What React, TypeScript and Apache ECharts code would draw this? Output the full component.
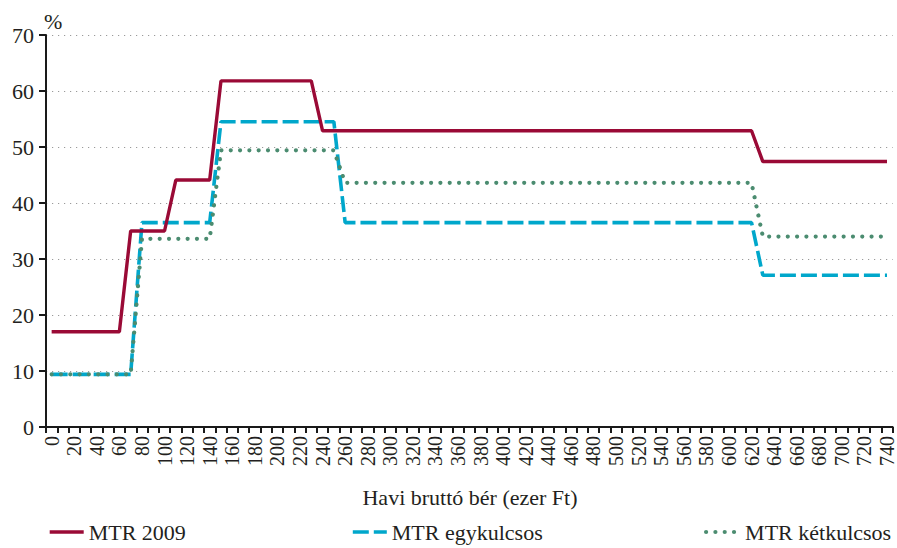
import React, { useEffect, useRef } from "react";
import * as echarts from "echarts";

const categories = [
  "0", "10", "20", "30", "40", "50", "60", "70", "80", "90",
  "100", "110", "120", "130", "140", "150", "160", "170", "180", "190",
  "200", "210", "220", "230", "240", "250", "260", "270", "280", "290",
  "300", "310", "320", "330", "340", "350", "360", "370", "380", "390",
  "400", "410", "420", "430", "440", "450", "460", "470", "480", "490",
  "500", "510", "520", "530", "540", "550", "560", "570", "580", "590",
  "600", "610", "620", "630", "640", "650", "660", "670", "680", "690",
  "700", "710", "720", "730", "740",
];

// MTR 2009
const mtr2009 = [
  17, 17, 17, 17, 17, 17, 17,
  35, 35, 35, 35,
  44.1, 44.1, 44.1, 44.1,
  61.8, 61.8, 61.8, 61.8, 61.8, 61.8, 61.8, 61.8, 61.8,
  52.9, 52.9, 52.9, 52.9, 52.9, 52.9, 52.9, 52.9, 52.9, 52.9,
  52.9, 52.9, 52.9, 52.9, 52.9, 52.9, 52.9, 52.9, 52.9, 52.9,
  52.9, 52.9, 52.9, 52.9, 52.9, 52.9, 52.9, 52.9, 52.9, 52.9,
  52.9, 52.9, 52.9, 52.9, 52.9, 52.9, 52.9, 52.9, 52.9,
  47.4, 47.4, 47.4, 47.4, 47.4, 47.4, 47.4, 47.4, 47.4, 47.4, 47.4, 47.4,
];

// MTR egykulcsos
const mtrEgy = [
  9.4, 9.4, 9.4, 9.4, 9.4, 9.4, 9.4, 9.4,
  36.5, 36.5, 36.5, 36.5, 36.5, 36.5, 36.5,
  54.5, 54.5, 54.5, 54.5, 54.5, 54.5, 54.5, 54.5, 54.5, 54.5, 54.5,
  36.5, 36.5, 36.5, 36.5, 36.5, 36.5, 36.5, 36.5, 36.5, 36.5,
  36.5, 36.5, 36.5, 36.5, 36.5, 36.5, 36.5, 36.5, 36.5, 36.5,
  36.5, 36.5, 36.5, 36.5, 36.5, 36.5, 36.5, 36.5, 36.5, 36.5,
  36.5, 36.5, 36.5, 36.5, 36.5, 36.5, 36.5,
  27.1, 27.1, 27.1, 27.1, 27.1, 27.1, 27.1, 27.1, 27.1, 27.1, 27.1, 27.1,
];

// MTR kétkulcsos
const mtrKet = [
  9.4, 9.4, 9.4, 9.4, 9.4, 9.4, 9.4, 9.4,
  33.6, 33.6, 33.6, 33.6, 33.6, 33.6, 33.6,
  49.4, 49.4, 49.4, 49.4, 49.4, 49.4, 49.4, 49.4, 49.4, 49.4, 49.4,
  43.6, 43.6, 43.6, 43.6, 43.6, 43.6, 43.6, 43.6, 43.6, 43.6,
  43.6, 43.6, 43.6, 43.6, 43.6, 43.6, 43.6, 43.6, 43.6, 43.6,
  43.6, 43.6, 43.6, 43.6, 43.6, 43.6, 43.6, 43.6, 43.6, 43.6,
  43.6, 43.6, 43.6, 43.6, 43.6, 43.6, 43.6,
  34.0, 34.0, 34.0, 34.0, 34.0, 34.0, 34.0, 34.0, 34.0, 34.0, 34.0, 34.0,
];

const seriesNames = ["MTR 2009", "MTR egykulcsos", "MTR kétkulcsos"];
const xTitle = "Havi bruttó bér (ezer Ft)";
const yUnit = "%";

const FONT = "'Liberation Serif', 'DejaVu Serif', serif";
const TXT = "#231f20";
const RED = "#9a0a36";
const BLUE = "#00a7cb";
const GREEN = "#4b8c70";

export default function App() {
  const ref = useRef<HTMLDivElement>(null);
  useEffect(() => {
    if (!ref.current) return;
    const chart = echarts.init(ref.current, null, { renderer: "svg" });
    const legendBase = {
      top: 521,
      padding: 0,
      itemWidth: 34,
      itemHeight: 14,
      itemGap: 6,
      itemStyle: { opacity: 0 },
      lineStyle: { width: "inherit" },
      textStyle: { fontFamily: FONT, fontSize: 22, color: TXT },
    };
    chart.setOption({
      animation: false,
      backgroundColor: "#ffffff",
      grid: { left: 46, right: 4, top: 35, bottom: 121 },
      legend: [
        { ...legendBase, left: 48, data: [seriesNames[0]] },
        { ...legendBase, left: 351, data: [seriesNames[1]] },
        { ...legendBase, left: 704, data: [seriesNames[2]] },
      ],
      graphic: [
        {
          type: "text",
          left: 44,
          top: 10,
          style: { text: yUnit, font: `22px ${FONT}`, fill: TXT },
        },
        {
          type: "text",
          x: 470,
          y: 497,
          style: {
            text: xTitle,
            font: `22px ${FONT}`,
            fill: TXT,
            align: "center",
            verticalAlign: "middle",
          },
        },
      ],
      xAxis: {
        type: "category",
        data: categories,
        boundaryGap: true,
        axisLine: { show: true, lineStyle: { color: "#1a1a1a", width: 2 } },
        axisTick: {
          show: true,
          interval: 0,
          alignWithLabel: false,
          length: 6,
          lineStyle: { color: "#1a1a1a", width: 2 },
        },
        axisLabel: {
          interval: 1,
          rotate: 90,
          margin: 9,
          fontFamily: FONT,
          fontSize: 20,
          color: TXT,
        },
        splitLine: { show: false },
      },
      yAxis: {
        type: "value",
        min: 0,
        max: 70,
        interval: 10,
        axisLine: { show: true, lineStyle: { color: "#1a1a1a", width: 2 } },
        axisTick: {
          show: true,
          length: 7,
          lineStyle: { color: "#1a1a1a", width: 2 },
        },
        axisLabel: {
          margin: 12,
          fontFamily: FONT,
          fontSize: 22,
          color: TXT,
        },
        splitLine: {
          show: true,
          lineStyle: { color: "#9a9a9a", width: 1.2, type: [1.2, 4.8] },
        },
      },
      series: [
        {
          name: seriesNames[1],
          type: "line",
          data: mtrEgy,
          symbol: "none",
          lineStyle: { color: BLUE, width: 3.6, type: [16, 5] },
          itemStyle: { color: BLUE },
          z: 2,
        },
        {
          name: seriesNames[2],
          type: "line",
          data: mtrKet,
          symbol: "none",
          lineStyle: { color: GREEN, width: 4.2, type: [0.01, 9.3], cap: "round" },
          itemStyle: { color: GREEN },
          z: 3,
        },
        {
          name: seriesNames[0],
          type: "line",
          data: mtr2009,
          symbol: "none",
          lineStyle: { color: RED, width: 3.4 },
          itemStyle: { color: RED },
          z: 4,
        },
      ],
    });
    return () => chart.dispose();
  }, []);
  return (
    <div
      ref={ref}
      style={{ position: "fixed", left: 0, top: 0, width: 897, height: 548 }}
    />
  );
}
